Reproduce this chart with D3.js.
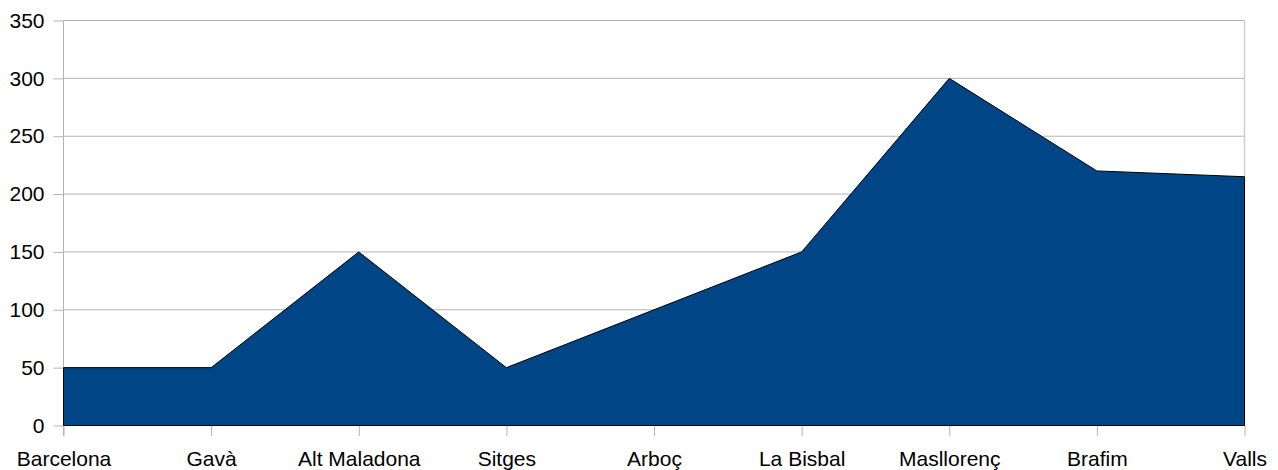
<!DOCTYPE html>
<html><head><meta charset="utf-8">
<script src="https://cdn.jsdelivr.net/npm/d3@7/dist/d3.min.js"></script>
<style>body{margin:0;background:#fff}svg{display:block}text{font-family:"Liberation Sans",Arial,sans-serif;fill:#000}</style>
</head><body><svg id="c" width="1278" height="470"></svg>
<script>
const categories = ["Barcelona","Gavà","Alt Maladona","Sitges","Arboç","La Bisbal","Masllorenç","Brafim","Valls"];
const values = [50,50,150,50,100,150,300,220,215];
const yTicks = [0,50,100,150,200,250,300,350];

const svg = d3.select("#c");
const L = 63.5, R = 1244.5, T = 20.5, B = 425.5;
const x = d3.scalePoint().domain(categories).range([L, R]);
const y = d3.scaleLinear().domain([0,350]).range([B, T]);
const fs = 21;

// gridlines
svg.append("g").selectAll("line").data(yTicks).join("line")
  .attr("x1", L).attr("x2", R).attr("y1", d=>y(d)).attr("y2", d=>y(d))
  .attr("stroke","#b3b3b3").attr("stroke-width",1);

// right border
svg.append("line").attr("x1",R).attr("x2",R).attr("y1",T).attr("y2",B)
  .attr("stroke","#cfcfcf").attr("stroke-width",1.5);

// y axis
const yAxis = d3.axisLeft(y).tickValues(yTicks).tickSize(10).tickPadding(9);
const gy = svg.append("g").attr("transform",`translate(${L},0)`).call(yAxis);
gy.select(".domain").attr("stroke","#b3b3b3").attr("d",`M0,${T}V${B+10.5}`);
gy.selectAll(".tick line").attr("stroke","#b3b3b3");
gy.selectAll(".tick text").attr("font-size",fs).attr("font-family","Liberation Sans, Arial, sans-serif").attr("fill","#000");

// x axis
const xAxis = d3.axisBottom(x).tickSize(10.5).tickPadding(0);
const gx = svg.append("g").attr("transform",`translate(0,${B})`).call(xAxis);
gx.select(".domain").remove();
gx.selectAll(".tick line").attr("stroke","#b3b3b3");
gx.selectAll(".tick text").attr("font-size",fs).attr("font-family","Liberation Sans, Arial, sans-serif")
  .attr("fill","#000").attr("dy",null).attr("y",40.5).attr("dominant-baseline","alphabetic");

// area
const area = d3.area().x((d,i)=>x(categories[i])).y0(y(0)).y1(d=>y(d));
svg.append("path").datum(values).attr("d",area)
  .attr("fill","#004586").attr("stroke","#000").attr("stroke-width",1).attr("stroke-linejoin","miter");
</script></body></html>
